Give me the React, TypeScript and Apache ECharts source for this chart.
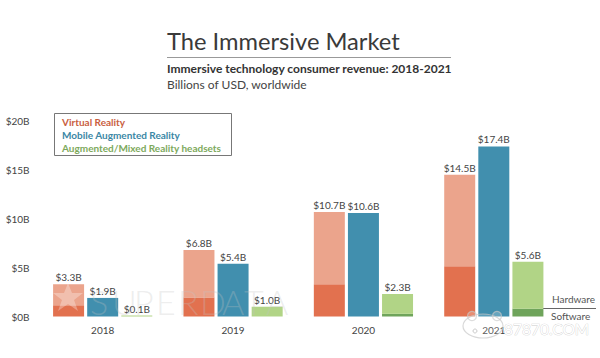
import React, { useEffect, useRef } from "react";
import * as echarts from "echarts";

const years = ["2018", "2019", "2020", "2021"];
const vrSoftware = [1.15, 1.95, 3.3, 5.15];
const vrHardware = [2.15, 4.85, 7.4, 9.35];
const mobile = [1.9, 5.4, 10.6, 17.4];
const arSoftware = [0, 0, 0.27, 0.8];
const arHardware = [0.1, 1.0, 2.03, 4.8];
const vrTotals = ["$3.3B", "$6.8B", "$10.7B", "$14.5B"];
const mobileTotals = ["$1.9B", "$5.4B", "$10.6B", "$17.4B"];
const arTotals = ["$0.1B", "$1.0B", "$2.3B", "$5.6B"];
const yTicks = { min: 0, max: 20, interval: 5 };
const legendItems = [
  { name: "Virtual Reality", color: "#c9603f" },
  { name: "Mobile Augmented Reality", color: "#3b87a5" },
  { name: "Augmented/Mixed Reality headsets", color: "#7da95c" },
];
const watermarkLetters = "SUPERDATA".split("");

const FONT = "Lato";
const TEXT = "#444444";

function App() {
  const ref = useRef<HTMLDivElement>(null);
  useEffect(() => {
    const chart = echarts.init(ref.current!, undefined, { renderer: "svg" });
    const labelFor = (totals: string[]) => ({
      show: true,
      position: "top" as const,
      distance: 2,
      fontFamily: FONT,
      fontSize: 10,
      color: TEXT,
      formatter: (p: any) => totals[p.dataIndex],
    });
    const common = { type: "bar" as const, barWidth: 31, barGap: "10%" };
    chart.setOption({
      animation: false,
      backgroundColor: "#ffffff",
      grid: { left: 37.5, right: 41, top: 121, height: 195.5, containLabel: false },
      xAxis: {
        type: "category",
        data: years,
        axisLine: { show: false },
        axisTick: { show: false },
        axisLabel: { fontFamily: FONT, fontSize: 10, color: TEXT, margin: 8 },
      },
      yAxis: {
        type: "value",
        ...yTicks,
        splitLine: { show: false },
        axisLine: { show: false },
        axisTick: { show: false },
        axisLabel: {
          fontFamily: FONT,
          fontSize: 10,
          color: TEXT,
          margin: 8,
          formatter: (v: number) => `$${v}B`,
        },
      },
      series: [
        { ...common, name: "VR software", stack: "vr", data: vrSoftware, itemStyle: { color: "#e2714f" } },
        { ...common, name: "VR hardware", stack: "vr", data: vrHardware, itemStyle: { color: "#eba48c" }, label: labelFor(vrTotals) },
        { ...common, name: "Mobile AR", stack: "mobile", data: mobile, itemStyle: { color: "#418fae" }, label: labelFor(mobileTotals) },
        { ...common, name: "AR software", stack: "ar", data: arSoftware, itemStyle: { color: "#6fa45b" } },
        { ...common, name: "AR hardware", stack: "ar", data: arHardware, itemStyle: { color: "#b1d486" }, label: labelFor(arTotals) },
      ],
      graphic: [
        { type: "text", x: 167, y: 29, style: { text: "The Immersive Market", font: `400 23.7px ${FONT}`, fill: "#3a3a3a" } },
        { type: "line", shape: { x1: 167, y1: 57.5, x2: 451, y2: 57.5 }, style: { stroke: "#999999", lineWidth: 1 } },
        { type: "text", x: 167, y: 62, style: { text: "Immersive technology consumer revenue: 2018-2021", font: `700 12px ${FONT}`, fill: "#333333" } },
        { type: "text", x: 167, y: 78, style: { text: "Billions of USD, worldwide", font: `400 12px ${FONT}`, fill: "#444444" } },
        { type: "rect", shape: { x: 54.5, y: 113.5, width: 177, height: 42 }, style: { fill: "#ffffff", stroke: "#777777", lineWidth: 1 } },
        ...legendItems.map((it, i) => ({
          type: "text",
          x: 62,
          y: 117 + i * 12.8,
          style: { text: it.name, font: `700 10px ${FONT}`, fill: it.color },
        })),
        { type: "line", shape: { x1: 543, y1: 308.5, x2: 596, y2: 308.5 }, style: { stroke: "#666666", lineWidth: 1 } },
        { type: "text", x: 552, y: 294, style: { text: "Hardware", font: `400 10px ${FONT}`, fill: "#555555" } },
        { type: "text", x: 551, y: 311, style: { text: "Software", font: `400 10px ${FONT}`, fill: "#555555" } },
        ...watermarkLetters.map((ch, i) => ({
          type: "text",
          x: 90 + i * 22,
          y: 284,
          z: 20,
          style: { text: ch, font: `300 34px ${FONT}`, fill: "rgba(195,195,195,0.3)" },
        })),
        { type: "polygon", z: 20, shape: { points: [[68, 283], [72, 293], [83, 293], [74, 300], [78, 311], [68, 304], [58, 311], [62, 300], [53, 293], [64, 293]] }, style: { fill: "rgba(255,255,255,0.3)" } },
        { type: "circle", z: 20, shape: { cx: 472, cy: 316, r: 4.5 }, style: { fill: "rgba(255,255,255,0.2)", stroke: "rgba(200,200,200,0.7)", lineWidth: 1.2 } },
        { type: "circle", z: 20, shape: { cx: 497, cy: 316, r: 4.5 }, style: { fill: "rgba(255,255,255,0.2)", stroke: "rgba(200,200,200,0.7)", lineWidth: 1.2 } },
        { type: "ellipse", z: 20, shape: { cx: 483, cy: 326, rx: 20, ry: 12 }, style: { fill: "rgba(255,255,255,0.15)", stroke: "rgba(200,200,200,0.7)", lineWidth: 1.2 } },
        { type: "circle", z: 20, shape: { cx: 475, cy: 331, r: 2 }, style: { fill: "rgba(255,255,255,0)", stroke: "rgba(190,190,190,0.8)", lineWidth: 1 } },
        { type: "text", x: 504, y: 321, z: 20, style: { text: "87870.COM", font: `400 15.5px ${FONT}`, fill: "#ffffff", stroke: "rgba(185,185,185,0.75)", lineWidth: 0.7 } },
      ],
    });
    return () => chart.dispose();
  }, []);
  return <div ref={ref} style={{ position: "absolute", left: 0, top: 0, width: 600, height: 358 }} />;
}

export default App;
